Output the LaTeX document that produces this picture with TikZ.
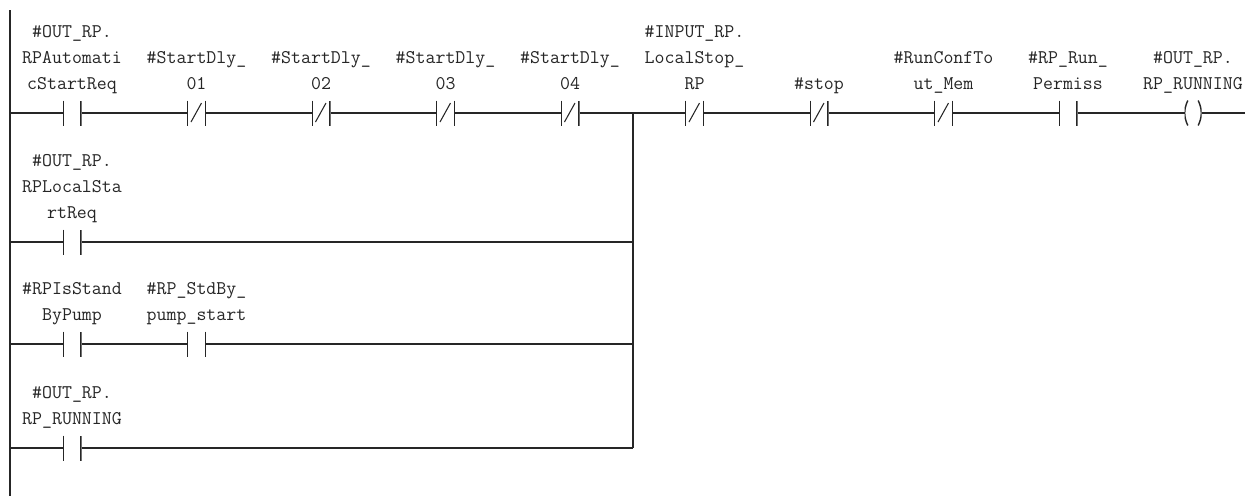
\documentclass[tikz,border=0pt]{standalone}
\usepackage{fontspec}
\usetikzlibrary{positioning}

\tikzset{
	wire/.style={line width=0.8pt, black!85},
	contact/.style={minimum width=0.38cm, minimum height=0.5cm, inner sep=0pt, outer sep=0pt,
		path picture={
			\draw[wire] ([xshift=0.4pt]path picture bounding box.north west) -- ([xshift=0.4pt]path picture bounding box.south west);
			\draw[wire] ([xshift=-0.4pt]path picture bounding box.north east) -- ([xshift=-0.4pt]path picture bounding box.south east);
		}},
	nccontact/.style={minimum width=0.38cm, minimum height=0.5cm, inner sep=0pt, outer sep=0pt,
		path picture={
			\draw[wire] ([xshift=0.4pt]path picture bounding box.north west) -- ([xshift=0.4pt]path picture bounding box.south west);
			\draw[wire] ([xshift=-0.4pt]path picture bounding box.north east) -- ([xshift=-0.4pt]path picture bounding box.south east);
			\draw[wire, line width=0.6pt] ([shift={(0.08,0.07)}]path picture bounding box.south west) -- ([shift={(-0.09,-0.05)}]path picture bounding box.north east);
		}},
	coil/.style={minimum width=0.34cm, minimum height=0.5cm, inner sep=0pt, outer sep=0pt,
		path picture={
			\draw[wire] ([xshift=0.066cm]path picture bounding box.north west) to[bend right=25] ([xshift=0.066cm]path picture bounding box.south west);
			\draw[wire] ([xshift=-0.066cm]path picture bounding box.north east) to[bend left=25] ([xshift=-0.066cm]path picture bounding box.south east);
		}},
	tag/.style={font=\ttfamily\fontsize{11}{14.8}\selectfont, text=black!85, align=center, inner sep=0pt, text depth=0pt}
}

\begin{document}
\begin{tikzpicture}
		\fill[white] (0,0) rectangle (24.9,-9.92);
		\useasboundingbox (0,0) rectangle (24.9,-9.92);

		% power rail
		\coordinate (railtop) at (0.2,-0.2);
		\coordinate (railbot) at (0.2,-9.92);
		\draw[wire] (railtop) -- (railbot);

		% main rung
		\node[contact] (c1) at (1.44,-2.26) {};
		\node[nccontact] (c2) at (3.93,-2.26) {};
		\node[nccontact] (c3) at (6.42,-2.26) {};
		\node[nccontact] (c4) at (8.91,-2.26) {};
		\node[nccontact] (c5) at (11.40,-2.26) {};
		\node[nccontact] (c6) at (13.89,-2.26) {};
		\node[nccontact] (c7) at (16.38,-2.26) {};
		\node[nccontact] (c8) at (18.87,-2.26) {};
		\node[contact] (c9) at (21.36,-2.26) {};
		\node[coil] (out) at (23.86,-2.26) {};

		\node[tag, above=0.21cm of c1] (t1) {\#OUT\_RP.\\RPAutomati\\cStartReq};
		\node[tag, above=0.21cm of c2] (t2) {\#StartDly\_\\01};
		\node[tag, above=0.21cm of c3] (t3) {\#StartDly\_\\02};
		\node[tag, above=0.21cm of c4] (t4) {\#StartDly\_\\03};
		\node[tag, above=0.21cm of c5] (t5) {\#StartDly\_\\04};
		\node[tag, above=0.21cm of c6] (t6) {\#INPUT\_RP.\\LocalStop\_\\RP};
		\node[tag, above=0.21cm of c7] (t7) {\#stop};
		\node[tag, above=0.21cm of c8] (t8) {\#RunConfTo\\ut\_Mem};
		\node[tag, above=0.21cm of c9] (t9) {\#RP\_Run\_\\Permiss};
		\node[tag, above=0.21cm of out] (t10) {\#OUT\_RP.\\RP\_RUNNING};

		\coordinate (r1) at (0.2,-2.26);
		\coordinate (j1) at (12.66,-2.26);
		\coordinate (end) at (24.9,-2.26);
		\draw[wire] (r1) -- (c1.west);
		\draw[wire] (c1.east) -- (c2.west);
		\draw[wire] (c2.east) -- (c3.west);
		\draw[wire] (c3.east) -- (c4.west);
		\draw[wire] (c4.east) -- (c5.west);
		\draw[wire] (c5.east) -- (c6.west);
		\draw[wire] (c6.east) -- (c7.west);
		\draw[wire] (c7.east) -- (c8.west);
		\draw[wire] (c8.east) -- (c9.west);
		\draw[wire] (c9.east) -- (out.west);
		\draw[wire] (out.east) -- (end);

		% parallel branches
		\node[contact] (b2) at (1.44,-4.84) {};
		\node[contact] (b3) at (1.44,-6.88) {};
		\node[contact] (b3s) at (3.93,-6.88) {};
		\node[contact] (b4) at (1.44,-8.96) {};

		\node[tag, above=0.21cm of b2] (t11) {\#OUT\_RP.\\RPLocalSta\\rtReq};
		\node[tag, above=0.21cm of b3] (t12) {\#RPIsStand\\ByPump};
		\node[tag, above=0.21cm of b3s] (t13) {\#RP\_StdBy\_\\pump\_start};
		\node[tag, above=0.21cm of b4] (t14) {\#OUT\_RP.\\RP\_RUNNING};

		\coordinate (r2) at (0.2,-4.84);
		\coordinate (r3) at (0.2,-6.88);
		\coordinate (r4) at (0.2,-8.96);
		\coordinate (j2) at (12.66,-4.84);
		\coordinate (j3) at (12.66,-6.88);
		\coordinate (j4) at (12.66,-8.96);

		\draw[wire] (r2) -- (b2.west);
		\draw[wire] (b2.east) -- (j2);
		\draw[wire] (r3) -- (b3.west);
		\draw[wire] (b3.east) -- (b3s.west);
		\draw[wire] (b3s.east) -- (j3);
		\draw[wire] (r4) -- (b4.west);
		\draw[wire] (b4.east) -- (j4);
		\draw[wire] (j1) -- (j4);

	\end{tikzpicture}
\end{document}
